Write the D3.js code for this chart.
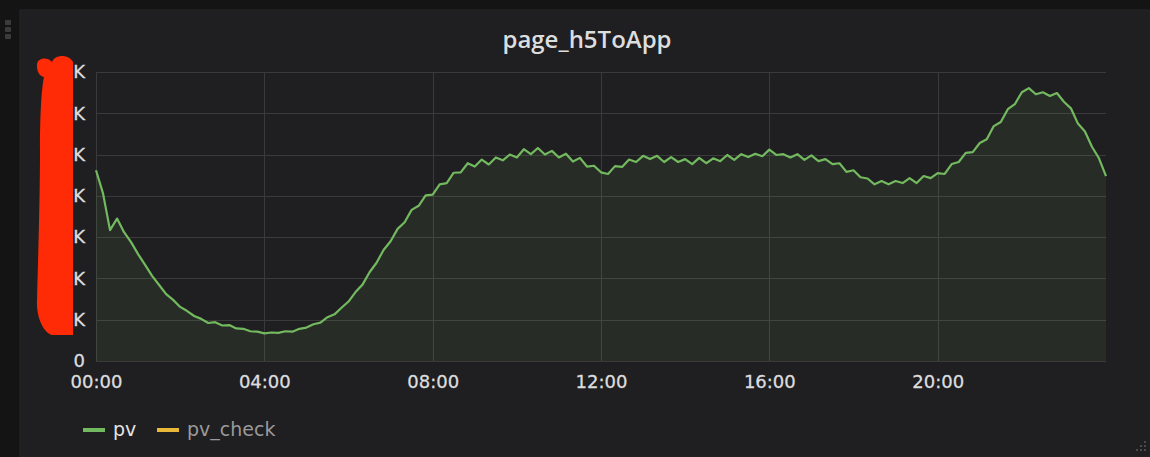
<!DOCTYPE html>
<html>
<head>
<meta charset="utf-8">
<script src="https://cdn.jsdelivr.net/npm/d3@7"></script>
<style>
  html, body { margin: 0; padding: 0; background: #141414; }
  svg { display: block; }
</style>
</head>
<body>
<svg id="chart" width="1150" height="457"></svg>
<script>
// pv, in K, one point every 10 minutes from 00:00 to 24:00
var pvValues = [
  46.2, 40.6, 31.7, 34.5, 31.2, 28.8,
  25.9, 23.3, 20.6, 18.4, 16.2, 14.8,
  13.1, 12.1, 10.9, 10.2, 9.2, 9.4,
  8.6, 8.7, 7.9, 7.8, 7.2, 7.1,
  6.7, 6.9, 6.8, 7.2, 7.1, 7.8,
  8.1, 8.9, 9.3, 10.6, 11.3, 12.9,
  14.4, 16.7, 18.5, 21.5, 23.8, 26.9,
  29.0, 32.0, 33.6, 36.6, 37.6, 40.1,
  40.3, 42.8, 43.1, 45.6, 45.7, 47.9,
  47.1, 48.8, 47.6, 49.3, 48.6, 50.0,
  49.3, 51.3, 50.1, 51.6, 50.0, 50.9,
  49.3, 50.2, 48.3, 49.2, 47.1, 47.3,
  45.7, 45.3, 47.2, 47.0, 48.8, 48.2,
  49.7, 48.9, 49.7, 48.2, 49.4, 48.2,
  48.9, 47.7, 49.2, 47.9, 49.1, 48.4,
  49.9, 48.7, 50.1, 49.4, 50.2, 49.6,
  51.2, 49.9, 50.1, 49.3, 50.1, 48.7,
  49.8, 48.4, 48.9, 47.7, 47.9, 45.8,
  46.2, 44.5, 44.2, 42.8, 43.6, 42.8,
  43.6, 43.1, 44.3, 43.1, 44.8, 44.3,
  45.5, 45.3, 47.7, 48.2, 50.4, 50.6,
  52.8, 53.7, 56.9, 57.9, 61.0, 62.2,
  65.1, 66.1, 64.6, 65.1, 64.2, 64.9,
  62.8, 61.2, 57.5, 55.6, 51.9, 49.1,
  44.8
];
var stepMinutes = 10;
var xTickHours = [0, 4, 8, 12, 16, 20];
var yTickValues = [0, 10, 20, 30, 40, 50, 60, 70];
var seriesNames = ["pv", "pv_check"];
var seriesColors = ["#73b95f", "#eab839"];
var titleText = "page_h5ToApp";

var svg = d3.select("#chart");
var W = 1150, H = 457;
var margin = {left: 96, right: 44, top: 72, bottom: 96};

// page + panel
svg.append("rect").attr("width", W).attr("height", H).attr("fill", "#141414");
svg.append("rect").attr("x", 20).attr("y", 10).attr("width", W - 20).attr("height", H - 10)
    .attr("fill", "#1f1e20").attr("stroke", "#262626");

// drag handle on the left
[20, 27, 34].forEach(function(y) {
  svg.append("rect").attr("x", 5).attr("y", y).attr("width", 6).attr("height", 5)
      .attr("rx", 1).attr("fill", "#3b3b3b");
});

// resize corner, bottom right
[[1144, 441], [1140, 445], [1144, 445], [1136, 449], [1140, 449], [1144, 449]].forEach(function(p) {
  svg.append("rect").attr("x", p[0]).attr("y", p[1]).attr("width", 2).attr("height", 2).attr("fill", "#4a4a4a");
});

svg.append("text")
    .attr("x", 587).attr("y", 48)
    .attr("text-anchor", "middle")
    .attr("font-family", "'Open Sans', sans-serif")
    .attr("font-weight", 600)
    .attr("font-size", 24)
    .attr("fill", "#dcdddf")
    .text(titleText);

var base = new Date(2020, 0, 1, 0, 0);
var data = pvValues.map(function(v, i) {
  return {t: new Date(base.getTime() + i * stepMinutes * 60000), v: v};
});

var x = d3.scaleTime()
    .domain([base, new Date(base.getTime() + 24 * 3600000)])
    .range([margin.left, W - margin.right]);
var y = d3.scaleLinear()
    .domain([0, 70])
    .range([H - margin.bottom, margin.top]);

// grid
var grid = svg.append("g").attr("stroke", "#3a3a3b").attr("stroke-width", 1);
grid.selectAll("line.h").data(yTickValues).enter().append("line")
    .attr("x1", margin.left).attr("x2", W - margin.right)
    .attr("y1", function(d) { return Math.round(y(d)) + 0.5; })
    .attr("y2", function(d) { return Math.round(y(d)) + 0.5; });
grid.selectAll("line.v").data(xTickHours).enter().append("line")
    .attr("x1", function(d) { return Math.round(x(new Date(base.getTime() + d * 3600000))) + 0.5; })
    .attr("x2", function(d) { return Math.round(x(new Date(base.getTime() + d * 3600000))) + 0.5; })
    .attr("y1", margin.top).attr("y2", H - margin.bottom);

// area + line
var area = d3.area()
    .x(function(d) { return x(d.t); })
    .y0(y(0))
    .y1(function(d) { return y(d.v); });
var line = d3.line()
    .x(function(d) { return x(d.t); })
    .y(function(d) { return y(d.v); });

svg.append("path").datum(data)
    .attr("d", area)
    .attr("fill", seriesColors[0])
    .attr("fill-opacity", 0.1);
svg.append("path").datum(data)
    .attr("d", line)
    .attr("fill", "none")
    .attr("stroke", seriesColors[0])
    .attr("stroke-width", 2.2)
    .attr("stroke-linejoin", "round");

// axes (text only, grafana style)
var xAxis = d3.axisBottom(x)
    .tickValues(xTickHours.map(function(h) { return new Date(base.getTime() + h * 3600000); }))
    .tickFormat(d3.timeFormat("%H:%M"))
    .tickSize(0).tickPadding(14);
var gx = svg.append("g").attr("transform", "translate(0," + (H - margin.bottom) + ")").call(xAxis);

var yAxis = d3.axisLeft(y)
    .tickValues(yTickValues)
    .tickFormat(function(d) { return d === 0 ? "0" : d + "K"; })
    .tickSize(0).tickPadding(11);
var gy = svg.append("g").attr("transform", "translate(" + margin.left + ",0)").call(yAxis);

[gx, gy].forEach(function(g) {
  g.select(".domain").remove();
  g.selectAll("text")
      .attr("font-family", "'DejaVu Sans', sans-serif")
      .attr("font-size", 18)
      .attr("fill", "#dcdddf")
      .attr("stroke", "#dcdddf")
      .attr("stroke-width", 0.3);
});

// redaction mark over the y labels
svg.append("path")
    .attr("d", "M37,66 C36,58 47,56 52,62 C55,54 69,54 73,62 L73,335 L52,335 " +
               "C44,333 36,318 37,300 C38,260 40,200 40,150 C40,110 42,85 44,77 C39,76 37,71 37,66 Z")
    .attr("fill", "#ff2b06");

// legend
var legend = svg.append("g").attr("transform", "translate(83,430)");
var lx = [0, 74];
seriesNames.forEach(function(name, i) {
  var g = legend.append("g").attr("transform", "translate(" + lx[i] + ",0)");
  g.append("line").attr("x1", 0).attr("x2", 22).attr("y1", 0).attr("y2", 0)
      .attr("stroke", seriesColors[i]).attr("stroke-width", 4);
  g.append("text").attr("x", 30).attr("y", 6)
      .attr("font-family", "'DejaVu Sans', sans-serif")
      .attr("font-size", 19)
      .attr("fill", i === 0 ? "#e4e4e4" : "#9a9a9a")
      .text(name);
});
</script>
</body>
</html>
